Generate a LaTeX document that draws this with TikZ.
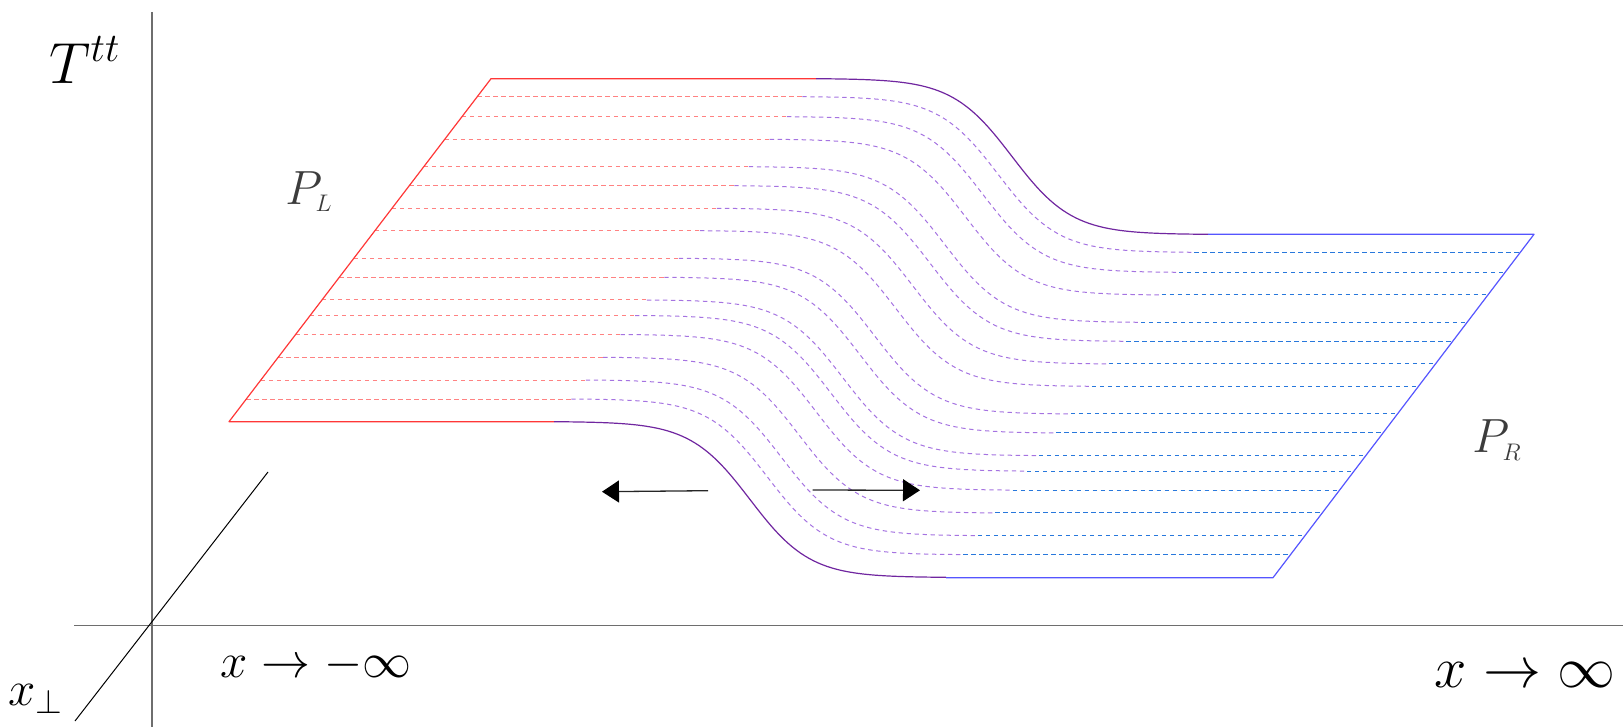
\RequirePackage{fix-cm}
\documentclass[tikz,border=0pt]{standalone}
\usetikzlibrary{arrows.meta}
\definecolor{redS}{RGB}{255,55,55}
\definecolor{redD}{RGB}{255,130,130}
\definecolor{purS}{RGB}{112,38,160}
\definecolor{purD}{RGB}{165,115,225}
\definecolor{bluS}{RGB}{85,85,255}
\definecolor{bluD}{RGB}{40,120,220}
\definecolor{axisgray}{RGB}{110,110,110}
\definecolor{labgray}{RGB}{60,60,60}
\begin{document}
\begin{tikzpicture}[x=0.5pt,y=-0.5pt,
  axisline/.style={draw=axisgray,line width=0.65pt},
  solidred/.style={draw=redS,line width=0.6pt,line join=round},
  solidpur/.style={draw=purS,line width=0.6pt},
  solidblue/.style={draw=bluS,line width=0.6pt,line join=round},
  dashbase/.style={line width=0.5pt,dash pattern=on 2.2pt off 1.8pt},
  dashred/.style={dashbase,draw=redD},
  dashpur/.style={dashbase,draw=purD},
  dashblue/.style={dashbase,draw=bluD},
  arr/.style={draw=black!85,line width=0.65pt,-{Triangle[length=8.5pt,width=11pt,color=black]}},
  bigtxt/.style={inner sep=0pt,font=\fontsize{29}{34}\selectfont},
  midtxt/.style={inner sep=0pt,font=\fontsize{24.5}{30}\selectfont},
  plab/.style={inner sep=0pt,text=labgray,font=\fontsize{24}{28}\selectfont}]
\useasboundingbox (0,0) rectangle (1623,727);
% axes
\coordinate (vtop) at (152,12);
\coordinate (vbot) at (152,727);
\coordinate (hl) at (74,625.5);
\coordinate (hr) at (1623,625.5);
\coordinate (d1) at (75,721);
\coordinate (d2) at (268,472);
\draw[axisline] (vtop) -- (vbot);
\draw[axisline] (hl) -- (hr);
\draw[black,line width=0.5pt] (d1) -- (d2);
% dashed sheet lines
\foreach \yy in {96.7,116.7,139.3,166.7,185.7,208.3,230.7,258.3,277.3,300,315.5,334.5,357.3,380,399}{
  \pgfmathsetmacro\sh{-0.764*(\yy-78.7)}
  \draw[dashred] ({491+\sh},\yy) -- ({816+\sh},\yy);
  \draw[dashpur] plot[domain=816:1208,samples=70] ({\x+\sh},{\yy+77.8+77.8*tanh((\x-1012)/60)/0.9971});
  \draw[dashblue] ({1208+\sh},{\yy+155.6}) -- ({1534+\sh},{\yy+155.6});
}
% outline
\coordinate (tl) at (491,78.7);
\coordinate (tm) at (816,78.7);
\coordinate (bl) at (229,421.7);
\coordinate (bm) at (554,421.7);
\coordinate (tr0) at (1208,234.3);
\coordinate (tr) at (1534,234.3);
\coordinate (br0) at (946,577.7);
\coordinate (br) at (1273,577.7);
\draw[solidred] (bm) -- (bl) -- (tl) -- (tm);
\draw[solidpur] plot[domain=816:1208,samples=90] (\x,{78.7+77.8+77.8*tanh((\x-1012)/60)/0.9971});
\draw[solidpur] plot[domain=554:946,samples=90] (\x,{421.7+77.8+77.8*tanh((\x-750)/60)/0.9971});
\draw[solidblue] (tr0) -- (tr) -- (br) -- (br0);
% arrows
\coordinate (la1) at (708,490.7);
\coordinate (la2) at (602,491.7);
\coordinate (ra1) at (812.7,490);
\coordinate (ra2) at (920,490.3);
\draw[arr] (la1) -- (la2);
\draw[arr] (ra1) -- (ra2);
% labels
\node[bigtxt] (Ttt) at (85,60) {$T^{tt}$};
\node[plab] (PL) at (309,192) {$P_{\scriptscriptstyle L}$};
\node[plab] (PR) at (1497,440) {$P_{\scriptscriptstyle R}$};
\node[midtxt] (xminus) at (316,665) {$x\to-\infty$};
\node[bigtxt] (xplus) at (1525,675) {$x\to\infty$};
\node[midtxt] (xperp) at (36,699) {$x_{\perp}$};
\end{tikzpicture}
\end{document}
